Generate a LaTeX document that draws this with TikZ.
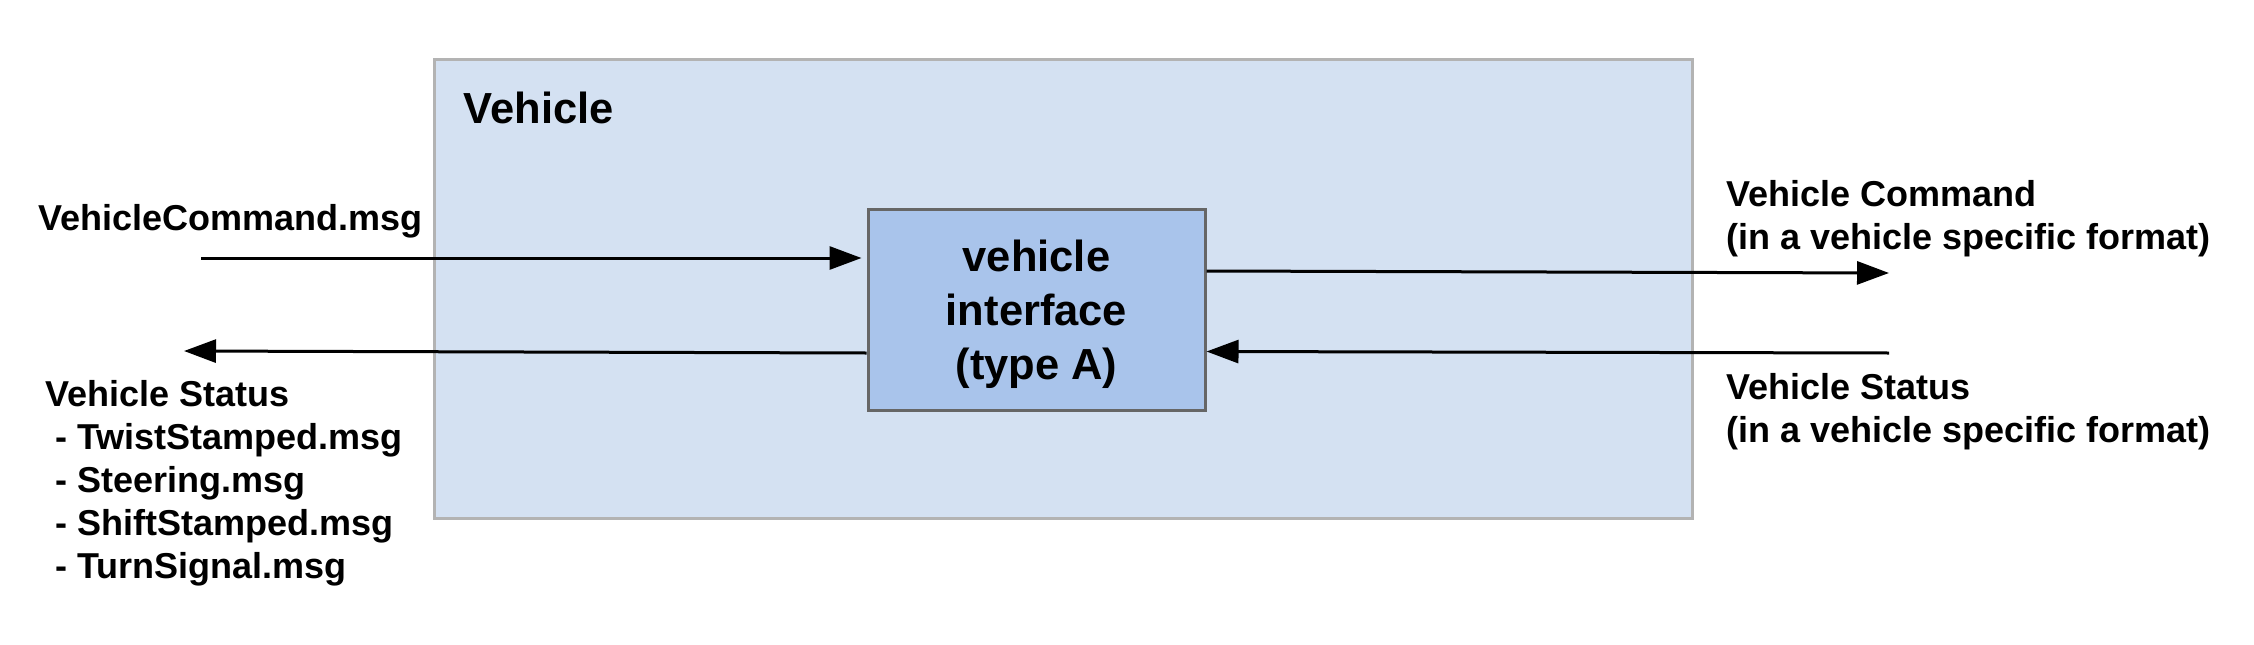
\documentclass[tikz,border=0pt]{standalone}
\usepackage{fontspec}
\setmainfont{Liberation Sans}
\definecolor{vehblue}{RGB}{212, 225, 242}
\definecolor{ifaceblue}{RGB}{169, 196, 235}
\definecolor{vehgray}{RGB}{179, 179, 179}
\definecolor{ifacegray}{RGB}{102, 102, 102}
\usetikzlibrary{arrows.meta, positioning, calc}

\begin{document}
\begin{tikzpicture}[x=1pt, y=-1pt,
  msgtext/.style={font=\fontsize{36}{43}\selectfont\bfseries, align=left, inner sep=0pt},
  flow/.style={line width=3pt, -{Triangle[length=32pt, width=23pt]}}]
  \useasboundingbox (0,0) rectangle (2254,645);
  \node[draw=vehgray, fill=vehblue, line width=3pt, minimum width=1258pt, minimum height=459pt, inner sep=0pt] (vehicle) at (1063,288.5) {};
  \node[anchor=base west, inner sep=0pt, font=\fontsize{43.5}{52}\selectfont\bfseries] (vehtitle) at ([xshift=31pt, yshift=-66pt]vehicle.north west) {Vehicle};
  \node[draw=ifacegray, fill=ifaceblue, line width=3pt, minimum width=337pt, minimum height=201pt, align=center, text depth=0pt, font=\fontsize{43.5}{54}\selectfont\bfseries] (iface) at (1036.5,309.5) {vehicle\\interface\\(type A)};

  \node[msgtext, anchor=base west] (cmdmsg) at (38,230) {VehicleCommand.msg};
  \node[msgtext, anchor=base west] (statusmsg) at (45,578) {Vehicle Status\\~- TwistStamped.msg\\~- Steering.msg\\~- ShiftStamped.msg\\~- TurnSignal.msg};
  \node[msgtext, anchor=base west] (cmdfmt) at (1726,249) {Vehicle Command\\(in a vehicle specific format)};
  \node[msgtext, anchor=base west] (statusfmt) at (1726,442) {Vehicle Status\\(in a vehicle specific format)};

  \coordinate (cmdin) at (201,258);
  \coordinate (statusout) at (184,351);
  \coordinate (cmdout) at (1889,273);
  \coordinate (statusin) at (1889,353);
  \draw[flow, shorten >=5pt] (cmdin) -- ([yshift=51.5pt]iface.west);
  \draw[flow] ([yshift=-43.5pt]iface.west) -- (statusout);
  \draw[flow] ([yshift=38.5pt]iface.east) -- (cmdout);
  \draw[flow] (statusin) -- ([yshift=-42pt]iface.east);
\end{tikzpicture}
\end{document}
